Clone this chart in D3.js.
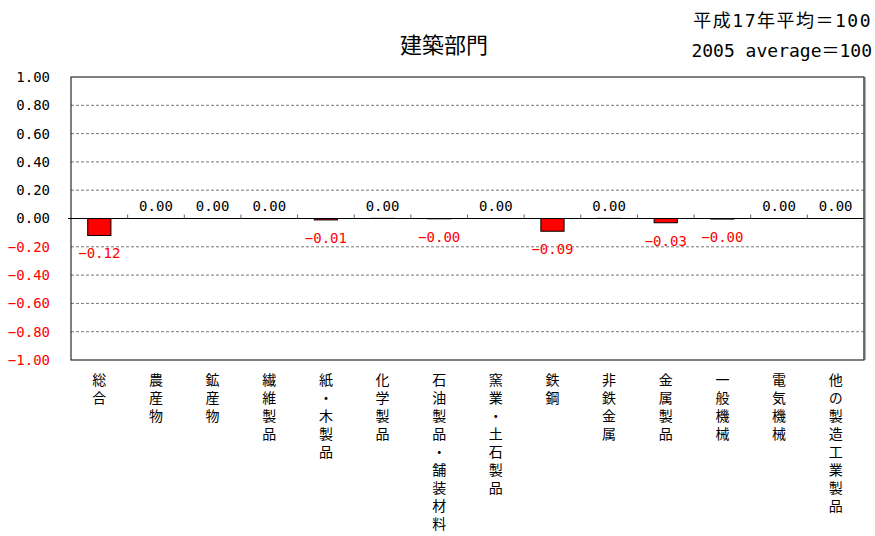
<!DOCTYPE html>
<html lang="ja">
  <head>
    <meta charset="UTF-8" />
    <title>建築部門</title>
    <script src="https://d3js.org/d3.v7.min.js"></script>
    <style>
      body {
        margin: 0;
        background: #fff;
        font-family: "Noto Sans CJK JP", sans-serif;
      }
      .num {
        font-family: "DejaVu Sans Mono", monospace;
        font-size: 14px;
      }
      .grid line {
        stroke: #555;
        stroke-dasharray: 3, 2;
        stroke-width: 0.8;
      }
      .cat {
        writing-mode: vertical-rl;
        text-orientation: upright;
        font-size: 14px;
        letter-spacing: 4px;
      }
    </style>
  </head>
  <body>
    <svg id="chart" width="875" height="536"></svg>
    <script>
      const categories = [
        "総合", "農産物", "鉱産物", "繊維製品", "紙・木製品", "化学製品",
        "石油製品・舗装材料", "窯業・土石製品", "鉄鋼", "非鉄金属",
        "金属製品", "一般機械", "電気機械", "他の製造工業製品",
      ];
      // 寄与度（建築部門）
      const values = [
        -0.12, 0.0, 0.0, 0.0, -0.01, 0.001,
        -0.002, 0.0, -0.09, 0.001,
        -0.03, -0.004, 0.0, 0.0,
      ];
      const yTicks = [1, 0.8, 0.6, 0.4, 0.2, 0, -0.2, -0.4, -0.6, -0.8, -1];

      const svg = d3.select("#chart");
      const plot = { left: 71, right: 864, top: 77, bottom: 360 };

      const x = d3.scaleBand().domain(categories).range([plot.left, plot.right]);
      const y = d3.scaleLinear().domain([-1, 1]).range([plot.bottom, plot.top]);

      const fmt = (v) => (v < 0 ? "\u2212" : "") + Math.abs(v).toFixed(2);

      // グリッド
      svg
        .append("g")
        .attr("class", "grid")
        .selectAll("line")
        .data(yTicks.filter((t) => t !== 0 && Math.abs(t) !== 1))
        .join("line")
        .attr("x1", plot.left)
        .attr("x2", plot.right)
        .attr("y1", (d) => y(d))
        .attr("y2", (d) => y(d));

      // 軸ラベル
      svg
        .append("g")
        .selectAll("text")
        .data(yTicks)
        .join("text")
        .attr("class", "num")
        .attr("x", 50)
        .attr("y", (d) => y(d))
        .attr("dy", "0.35em")
        .attr("text-anchor", "end")
        .attr("fill", (d) => (d < 0 ? "#ff0000" : "#000"))
        .text((d) => fmt(d));

      // 棒
      const bw = x.bandwidth() * 0.41;
      svg
        .append("g")
        .selectAll("rect")
        .data(values)
        .join("rect")
        .attr("x", (d, i) => x(categories[i]) + (x.bandwidth() - bw) / 2)
        .attr("y", (d) => Math.min(y(d), y(0)))
        .attr("width", bw)
        .attr("height", (d) => Math.abs(y(d) - y(0)))
        .attr("fill", "#ff0000")
        .attr("stroke", "#000")
        .attr("stroke-width", 1);

      // ゼロ線と目盛
      svg
        .append("line")
        .attr("x1", plot.left - 3)
        .attr("x2", plot.right)
        .attr("y1", y(0))
        .attr("y2", y(0))
        .attr("stroke", "#000")
        .attr("stroke-width", 1.2);
      svg
        .append("g")
        .selectAll("line")
        .data(categories.slice(1))
        .join("line")
        .attr("x1", (d) => x(d))
        .attr("x2", (d) => x(d))
        .attr("y1", y(0) - 4)
        .attr("y2", y(0))
        .attr("stroke", "#666");

      // 枠
      svg
        .append("rect")
        .attr("x", plot.left)
        .attr("y", plot.top)
        .attr("width", plot.right - plot.left)
        .attr("height", plot.bottom - plot.top)
        .attr("fill", "none")
        .attr("stroke", "#000");
      svg
        .append("line")
        .attr("x1", plot.right + 0.5)
        .attr("x2", plot.right + 0.5)
        .attr("y1", plot.top)
        .attr("y2", plot.bottom)
        .attr("stroke", "#666")
        .attr("stroke-width", 2);

      // データラベル
      svg
        .append("g")
        .selectAll("text")
        .data(values)
        .join("text")
        .attr("class", "num")
        .attr("x", (d, i) => x(categories[i]) + x.bandwidth() / 2)
        .attr("y", (d) => (d < 0 ? y(d) + 23 : y(0) - 8))
        .attr("text-anchor", "middle")
        .attr("fill", (d) => (d < 0 ? "#ff0000" : "#000"))
        .text((d) => fmt(d));

      // 項目名（縦書き）
      svg
        .append("g")
        .selectAll("text")
        .data(categories)
        .join("text")
        .attr("class", "cat")
        .attr("x", (d) => x(d) + x.bandwidth() / 2)
        .attr("y", 373)
        .text((d) => d);

      // タイトル
      svg
        .append("text")
        .attr("x", 444)
        .attr("y", 53)
        .attr("text-anchor", "middle")
        .style("font-size", "22px")
        .text("建築部門");

      svg
        .append("text")
        .attr("x", 872)
        .attr("y", 27)
        .attr("text-anchor", "end")
        .style("font-size", "18px")
        .style("letter-spacing", "1.5px")
        .style("font-family", "'DejaVu Sans Mono', 'Noto Sans CJK JP', monospace")
        .text("平成17年平均＝100");
      svg
        .append("text")
        .attr("x", 872)
        .attr("y", 57)
        .attr("text-anchor", "end")
        .style("font-size", "18px")
        .style("font-family", "'DejaVu Sans Mono', 'Noto Sans CJK JP', monospace")
        .text("2005 average＝100");
    </script>
  </body>
</html>
